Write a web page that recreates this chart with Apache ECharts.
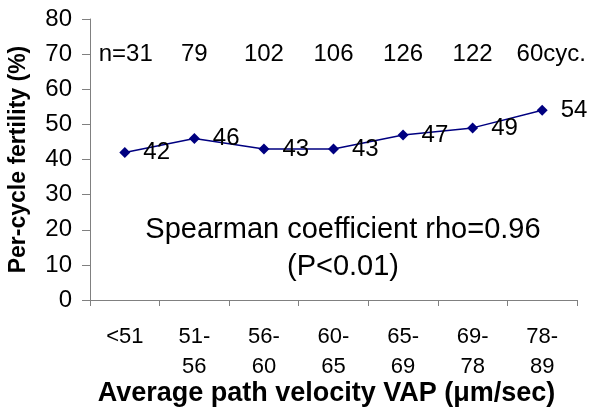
<!DOCTYPE html>
<html><head><meta charset="utf-8">
<script src="https://cdn.jsdelivr.net/npm/echarts@6/dist/echarts.min.js"></script>
<style>html,body{margin:0;padding:0;background:#fff}#c{width:599px;height:410px}</style>
</head><body><div id="c"></div>
<script>
var categories = ['<51', '51-\n56', '56-\n60', '60-\n65', '65-\n69', '69-\n78', '78-\n89'];
var fertility = [42, 46, 43, 43, 47, 49, 54];
var nLabels = ['n=31', '79', '102', '106', '126', '122', '60cyc.'];
var nLevel = 70;
var yTicks = [0, 80, 10];
var FONT = '"Liberation Sans", Arial, sans-serif';

var chart = echarts.init(document.getElementById('c'), null, {renderer: 'canvas'});
var nData = nLabels.map(function (t, i) {
  var item = {value: nLevel, label: {formatter: t}};
  if (i === 0) item.label.offset = [1, 0];
  if (i === nLabels.length - 1) item.label.offset = [9, 0];
  return item;
});
chart.setOption({
  animation: false,
  backgroundColor: '#fff',
  textStyle: {fontFamily: FONT},
  grid: {left: 90, right: 22, top: 19, bottom: 110, containLabel: false, outerBoundsMode: 'none'},
  xAxis: {
    type: 'category', data: categories, boundaryGap: true,
    axisLine: {lineStyle: {color: '#808080', width: 1}},
    axisTick: {show: true, length: 6, lineStyle: {color: '#808080'}},
    axisLabel: {color: '#000', fontSize: 22, fontFamily: FONT, lineHeight: 30, margin: 22, interval: 0},
    name: 'Average path velocity VAP (\u03bcm/sec)', nameLocation: 'middle', nameGap: 80,
    nameMoveOverlap: false,
    nameTextStyle: {color: '#000', fontSize: 27, fontWeight: 'bold', fontFamily: FONT, padding: [0, 14, 0, 0]}
  },
  yAxis: {
    type: 'value', min: yTicks[0], max: yTicks[1], interval: yTicks[2],
    axisLine: {show: true, lineStyle: {color: '#808080', width: 1}},
    axisTick: {show: true, length: 8, lineStyle: {color: '#808080'}},
    splitLine: {show: false},
    axisLabel: {color: '#000', fontSize: 24, fontFamily: FONT, margin: 18},
    name: 'Per-cycle fertility (%)', nameLocation: 'middle', nameGap: 60,
    nameMoveOverlap: false,
    nameTextStyle: {color: '#000', fontSize: 23, fontWeight: 'bold', fontFamily: FONT}
  },
  series: [{
    type: 'line', data: fertility,
    symbol: 'diamond', symbolSize: 11,
    lineStyle: {color: '#000080', width: 1.5},
    itemStyle: {color: '#000080'},
    label: {show: true, position: 'right', distance: 13, offset: [0, 0], color: '#000', fontSize: 24, fontFamily: FONT}
  }, {
    type: 'scatter', data: nData, symbolSize: 1,
    itemStyle: {color: '#fff', opacity: 1},
    label: {show: true, position: 'inside', color: '#000', opacity: 1, textBorderWidth: 0, fontSize: 24, fontFamily: FONT},
    emphasis: {disabled: true},
    silent: true, z: 5
  }],
  graphic: [{
    type: 'text', x: 343, y: 230,
    style: {text: 'Spearman coefficient rho=0.96', fill: '#000', fontSize: 29, fontFamily: FONT, textAlign: 'center', textVerticalAlign: 'middle'}
  }, {
    type: 'text', x: 343, y: 267,
    style: {text: '(P<0.01)', fill: '#000', fontSize: 29, fontFamily: FONT, textAlign: 'center', textVerticalAlign: 'middle'}
  }]
});
</script></body></html>
